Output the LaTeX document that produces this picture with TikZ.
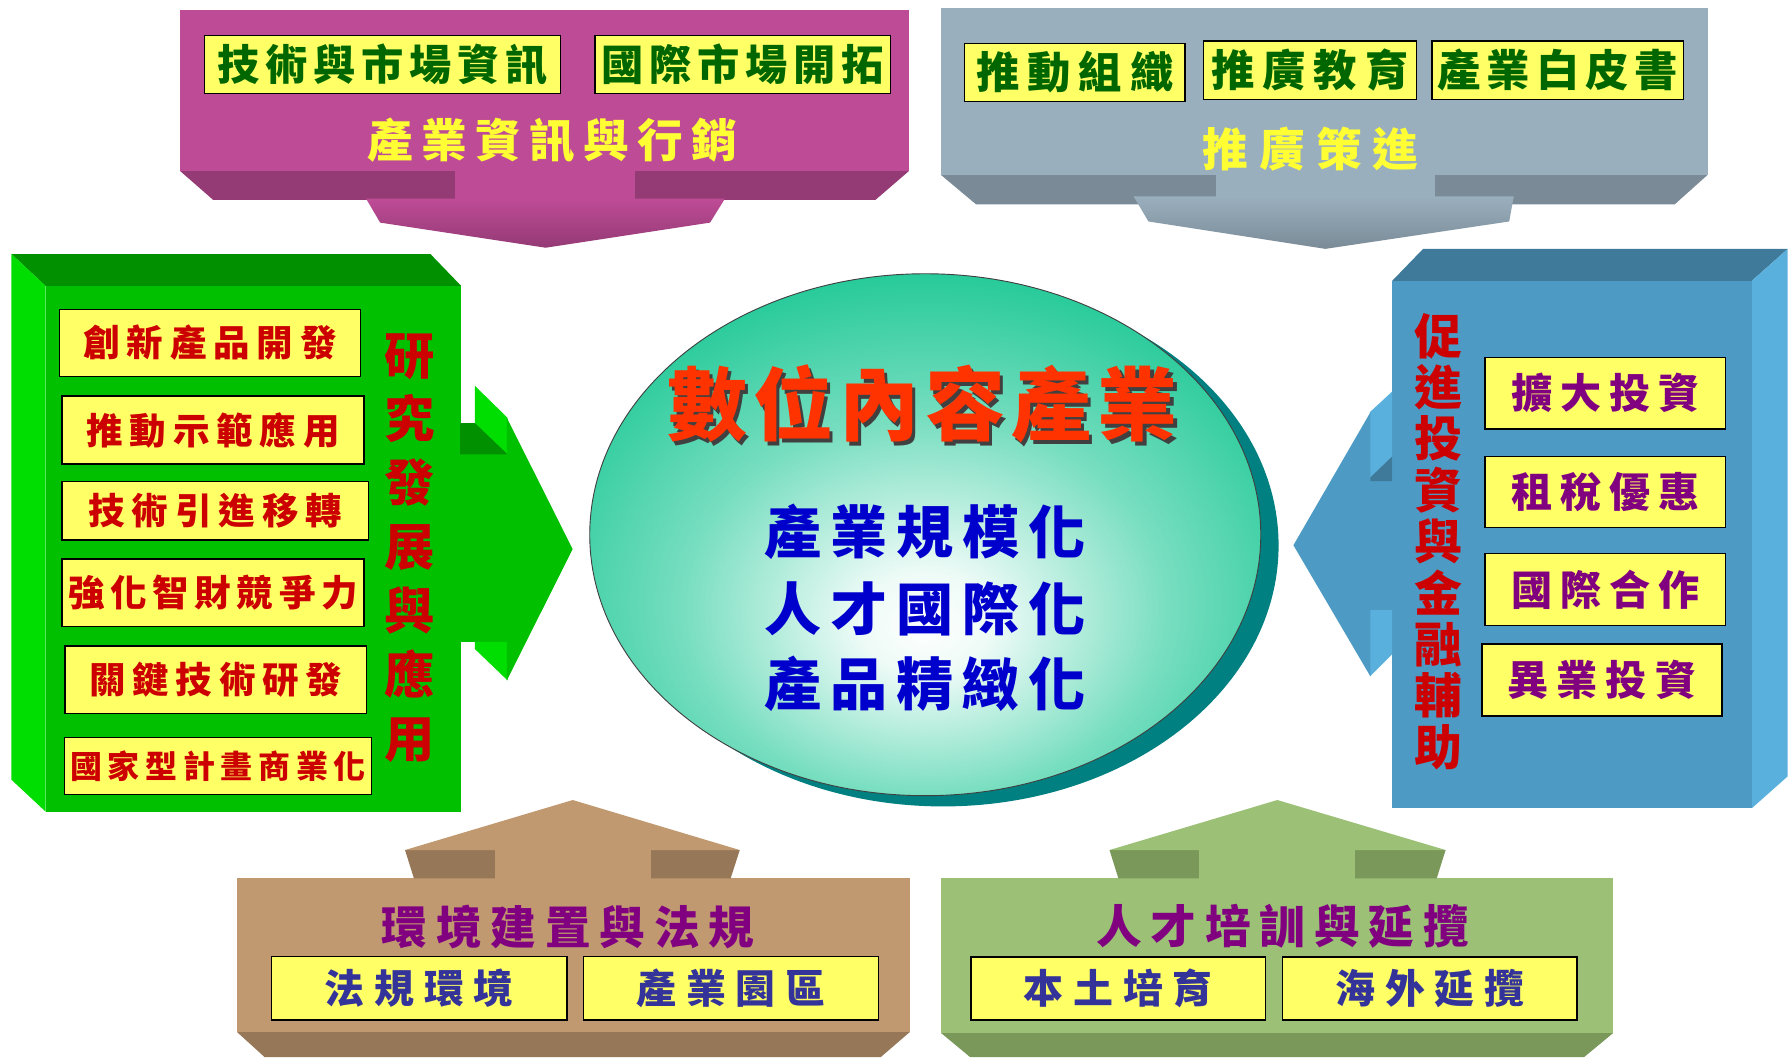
\documentclass[tikz,border=0pt]{standalone}
\usepackage{fontspec}
\newfontfamily\cjk{Noto Sans CJK TC}
\usetikzlibrary{shapes.geometric}

\definecolor{magF}{HTML}{BE4B96}
\definecolor{magD}{HTML}{943A75}
\definecolor{gryF}{HTML}{9AAFBE}
\definecolor{gryD}{HTML}{7A8B97}
\definecolor{grnF}{HTML}{00C000}
\definecolor{grnD}{HTML}{009000}
\definecolor{grnL}{HTML}{00DD00}
\definecolor{bluF}{HTML}{4D9BC4}
\definecolor{bluD}{HTML}{3F7A9A}
\definecolor{bluL}{HTML}{5AB0DD}
\definecolor{brnF}{HTML}{C09970}
\definecolor{brnD}{HTML}{967858}
\definecolor{olvF}{HTML}{9BC076}
\definecolor{olvD}{HTML}{7A985A}
\definecolor{boxY}{HTML}{FFFF66}
\definecolor{labY}{HTML}{FFFF33}
\definecolor{txG}{HTML}{006600}
\definecolor{txR}{HTML}{CC0000}
\definecolor{txP}{HTML}{800080}
\definecolor{txN}{HTML}{333399}
\definecolor{txB}{HTML}{0000CC}
\definecolor{txO}{HTML}{FF3300}
\definecolor{tealO}{HTML}{1EC896}
\definecolor{tealS}{HTML}{008080}

\pgfdeclareradialshading{ellshade}{\pgfpoint{0bp}{-9bp}}{color(0bp)=(white); color(5bp)=(white!92!tealO); color(18bp)=(white!40!tealO); color(32bp)=(tealO); color(80bp)=(tealO)}

\makeatletter
\newlength\sptxtls
\newcommand\sptxt[2]{\setlength\sptxtls{#1}\kern\sptxtls\sptxt@loop#2\relax}
\def\sptxt@loop#1{\ifx#1\relax\else#1\kern\sptxtls\expandafter\sptxt@loop\fi}
\makeatother

\tikzset{
  ybox/.style={draw=black, line width=1.3pt, fill=boxY, inner sep=0pt},
  fs/.style={font={\cjk\bfseries\fontsize{#1}{#1}\selectfont}, inner sep=0pt},
  vtext/.style 2 args={align=center, inner sep=0pt, font={\cjk\bfseries\fontsize{#1}{#2}\selectfont}},
}

\begin{document}
\begin{tikzpicture}[x=1pt,y=-1pt]
\fill[white] (0,0) rectangle (1568,926);
\useasboundingbox (0,0) rectangle (1568,926);

% ---------- magenta block (top left)
\fill[magD] (158,150) -- (796,150) -- (767,175) -- (186.6,175) -- cycle;
\fill[magF] (158,8.8) rectangle (796,150);
\fill[magF] (399,149) rectangle (556,175);
\shade[top color=magF, bottom color=magD] (320.7,174) -- (635,174) -- (622,195) -- (478,217) -- (333,195) -- cycle;
\node[ybox, minimum width=312pt, minimum height=51pt, fs=37, text=txG] (m1) at (335,56.5) {\sptxt{5pt}{技術與市場資訊}};
\node[ybox, minimum width=259pt, minimum height=51pt, fs=37, text=txG] (m2) at (650.5,56.5) {\sptxt{5pt}{國際市場開拓}};
\node[fs=40, text=labY] (mlab) at (484,123) {\sptxt{7.3pt}{產業資訊與行銷}};

% ---------- gray block (top right)
\fill[gryD] (824,153) -- (1496,153) -- (1467,179) -- (855,179) -- cycle;
\fill[gryF] (824,7) rectangle (1496,153);
\fill[gryF] (1065,152) rectangle (1257,173);
\shade[top color=gryF, bottom color=gryD] (993,172) -- (1326,172) -- (1322,194) -- (1161,218) -- (1006,194) -- cycle;
\node[ybox, minimum width=193pt, minimum height=51pt, fs=38, text=txG] (g1) at (941.5,63.5) {\sptxt{7pt}{推動組織}};
\node[ybox, minimum width=187pt, minimum height=51pt, fs=38, text=txG] (g2) at (1147.5,61.5) {\sptxt{7pt}{推廣教育}};
\node[ybox, minimum width=215pt, minimum height=51pt, fs=38, text=txG] (g3) at (1364.5,61.5) {\sptxt{5pt}{產業白皮書}};
\node[fs=40, text=labY] (glab) at (1148,131) {\sptxt{9.7pt}{推廣策進}};

% ---------- green block (left)
\fill[grnD] (10,222.5) -- (377,222.5) -- (404,250.5) -- (40,250.5) -- cycle;
\fill[grnL] (10,222.5) -- (40,250.5) -- (40,711) -- (10,683) -- cycle;
\fill[grnF] (40,250.5) rectangle (404,711);
\fill[grnL] (416,338) -- (444.6,366) -- (444.6,596) -- (416,568.5) -- cycle;
\fill[grnF] (403,398) rectangle (445,562);
\fill[grnD] (403,370.6) -- (416,370.6) -- (444.6,398) -- (403,398) -- cycle;
\fill[grnF] (444,366) -- (501.6,481) -- (444,596) -- cycle;
\node[ybox, minimum width=264pt, minimum height=59pt, fs=32, text=txR] (r1) at (184,300.5) {\sptxt{6pt}{創新產品開發}};
\node[ybox, minimum width=264.7pt, minimum height=59.5pt, fs=32, text=txR] (r2) at (186.6,376.7) {\sptxt{6pt}{推動示範應用}};
\node[ybox, minimum width=268.7pt, minimum height=51pt, fs=32, text=txR] (r3) at (188.6,447.5) {\sptxt{6pt}{技術引進移轉}};
\node[ybox, minimum width=264.7pt, minimum height=59.4pt, fs=32, text=txR] (r4) at (186.6,519.3) {\sptxt{5pt}{強化智財競爭力}};
\node[ybox, minimum width=264pt, minimum height=59pt, fs=32, text=txR] (r5) at (189,595.5) {\sptxt{6pt}{關鍵技術研發}};
\node[ybox, minimum width=268pt, minimum height=50pt, fs=28, text=txR] (r6) at (191,671) {\sptxt{5pt}{國家型計畫商業化}};
\node[vtext={44}{56}, text=txR] (rlab) at (359,480) {研\\究\\發\\展\\與\\應\\用};

% ---------- blue block (right)
\fill[bluD] (1219.5,246) -- (1246.6,218) -- (1566,218) -- (1534.5,246) -- cycle;
\fill[bluL] (1534.5,246) -- (1566,218) -- (1566,680) -- (1534.5,708) -- cycle;
\fill[bluF] (1219.5,246) rectangle (1534.5,708);
\fill[bluL] (1200,361) -- (1219.5,343) -- (1219.5,573) -- (1200,592.6) -- cycle;
\fill[bluF] (1199,421) rectangle (1220,534);
\fill[bluD] (1197,421.5) -- (1219.5,399.8) -- (1219.5,421.5) -- cycle;
\fill[bluF] (1200.5,361) -- (1133,477.6) -- (1200.5,592.6) -- cycle;
\node[ybox, minimum width=210.8pt, minimum height=63pt, fs=36, text=txP] (p1) at (1406.2,344.5) {\sptxt{7pt}{擴大投資}};
\node[ybox, minimum width=210.8pt, minimum height=62pt, fs=36, text=txP] (p2) at (1406.2,431) {\sptxt{7pt}{租稅優惠}};
\node[ybox, minimum width=210.8pt, minimum height=63pt, fs=36, text=txP] (p3) at (1406.2,516.5) {\sptxt{7pt}{國際合作}};
\node[ybox, minimum width=210.6pt, minimum height=63pt, fs=36, text=txP] (p4) at (1403.3,595.5) {\sptxt{7pt}{異業投資}};
\node[vtext={42}{45}, text=txR] (plab) at (1260,474.3) {促\\進\\投\\資\\與\\金\\融\\輔\\助};

% ---------- brown block (bottom left)
\fill[brnD] (207.6,904) -- (797,904) -- (771.5,926) -- (231.8,926) -- cycle;
\fill[brnF] (207.6,769) rectangle (797,904);
\fill[brnD] (354.8,744.6) -- (648,744.6) -- (640,769.5) -- (362.6,769.5) -- cycle;
\fill[brnF] (354.8,744.6) -- (501.7,700.8) -- (648,744.6) -- cycle;
\fill[brnF] (434,744) rectangle (570,770);
\node[fs=40, text=txP] (elab) at (497.6,811.7) {\sptxt{7.8pt}{環境建置與法規}};
\node[ybox, minimum width=258.8pt, minimum height=55.5pt, fs=35, text=txN] (e1) at (367.4,865.75) {\sptxt{8.5pt}{法規環境}};
\node[ybox, minimum width=258.5pt, minimum height=55.5pt, fs=35, text=txN] (e2) at (640.25,865.75) {\sptxt{8.5pt}{產業園區}};

% ---------- olive block (bottom right)
\fill[olvD] (824.5,905) -- (1413,905) -- (1387.6,926) -- (849.8,926) -- cycle;
\fill[olvF] (824.5,769) rectangle (1413,905);
\fill[olvD] (971.9,744.6) -- (1266.3,744.6) -- (1258.5,769.5) -- (979.7,769.5) -- cycle;
\fill[olvF] (971.9,744.6) -- (1118.9,700.8) -- (1266.3,744.6) -- cycle;
\fill[olvF] (1050,744) rectangle (1187,770);
\node[fs=40, text=txP] (tlab) at (1123.6,811.7) {\sptxt{7.8pt}{人才培訓與延攬}};
\node[ybox, minimum width=258.1pt, minimum height=55pt, fs=35, text=txN] (t1) at (979.65,866) {\sptxt{8.5pt}{本土培育}};
\node[ybox, minimum width=257.9pt, minimum height=55pt, fs=35, text=txN] (t2) at (1252.55,866) {\sptxt{8.5pt}{海外延攬}};

% ---------- center ellipse
\node[ellipse, fill=tealS, minimum width=587.8pt, minimum height=457.2pt, inner sep=0pt] (coresh) at (826.1,477.8) {};
\node[ellipse, draw=black!75, line width=0.8pt, shading=ellshade, minimum width=587.8pt, minimum height=457.2pt, inner sep=0pt] (core) at (810.5,468.4) {};
\node[fs=70, text=black!75] (titlesh) at (811,357) {\sptxt{5.4pt}{數位內容產業}};
\node[fs=70, text=txO] (title) at (808,354) {\sptxt{5.4pt}{數位內容產業}};
\node[fs=50, text=txB] (c1) at (810,466) {\sptxt{7.75pt}{產業規模化}};
\node[fs=50, text=txB] (c2) at (810,533.5) {\sptxt{7.75pt}{人才國際化}};
\node[fs=50, text=txB] (c3) at (810,599) {\sptxt{7.75pt}{產品精緻化}};
\end{tikzpicture}
\end{document}
